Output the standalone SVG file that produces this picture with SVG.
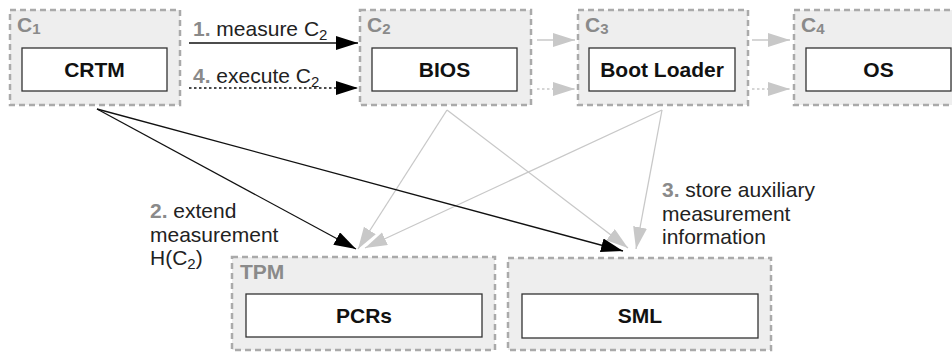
<svg xmlns="http://www.w3.org/2000/svg" width="952" height="353" viewBox="0 0 952 353">
  <style>
    .container { fill: #eeeeee; stroke: #aaaaaa; stroke-width: 2.5; stroke-dasharray: 6 4; }
    .inner { fill: #ffffff; stroke: #333333; stroke-width: 1.3; }
    .cname { font-family: "Liberation Sans", Arial, sans-serif; font-weight: bold; font-size: 21px; fill: #8a8a8a; }
    .nname { font-family: "Liberation Sans", Arial, sans-serif; font-weight: bold; font-size: 21px; fill: #111111; text-anchor: middle; }
    .label { font-family: "Liberation Sans", Arial, sans-serif; font-size: 21px; fill: #222222; }
    .num { fill: #8a8a8a; font-weight: bold; }
    .black { stroke: #111111; stroke-width: 1.3; fill: none; }
    .gray { stroke: #c8c8c8; stroke-width: 1.3; fill: none; }
    .dotted { stroke-dasharray: 2.5 2.5; }
  </style>
  <defs>
    <marker id="headBlack" markerUnits="userSpaceOnUse" markerWidth="24" markerHeight="16" refX="22" refY="7" orient="auto">
      <path d="M0,0 L22,7 L0,14 Z" fill="#000000"/>
    </marker>
    <marker id="headGray" markerUnits="userSpaceOnUse" markerWidth="24" markerHeight="16" refX="22" refY="7" orient="auto">
      <path d="M0,0 L22,7 L0,14 Z" fill="#c8c8c8"/>
    </marker>
  </defs>

  <!-- components -->
  <g id="c1">
    <rect class="container" x="10" y="10" width="170" height="95"/>
    <text class="cname" x="17" y="32">C<tspan font-size="15" dy="2">1</tspan></text>
    <rect class="inner" x="22" y="48" width="145" height="43"/>
    <text class="nname" x="94.5" y="77">CRTM</text>
  </g>
  <g id="c2">
    <rect class="container" x="360" y="10" width="171" height="95"/>
    <text class="cname" x="367" y="32">C<tspan font-size="15" dy="2">2</tspan></text>
    <rect class="inner" x="372" y="48" width="145" height="43"/>
    <text class="nname" x="444.5" y="77">BIOS</text>
  </g>
  <g id="c3">
    <rect class="container" x="578" y="10" width="170" height="95"/>
    <text class="cname" x="585" y="32">C<tspan font-size="15" dy="2">3</tspan></text>
    <rect class="inner" x="589" y="48" width="146" height="43"/>
    <text class="nname" x="662" y="77">Boot Loader</text>
  </g>
  <g id="c4">
    <rect class="container" x="794" y="10" width="170" height="95"/>
    <text class="cname" x="801" y="32">C<tspan font-size="15" dy="2">4</tspan></text>
    <rect class="inner" x="806" y="48" width="145" height="43"/>
    <text class="nname" x="878.5" y="77">OS</text>
  </g>
  <g id="tpm">
    <rect class="container" x="232" y="257" width="263" height="93"/>
    <text class="cname" x="240" y="279">TPM</text>
    <rect class="inner" x="246" y="294" width="236" height="43"/>
    <text class="nname" x="364" y="323">PCRs</text>
  </g>
  <g id="sml">
    <rect class="container" x="508" y="258" width="263" height="92"/>
    <rect class="inner" x="522" y="294" width="236" height="44"/>
    <text class="nname" x="640" y="323">SML</text>
  </g>

  <!-- connectors -->
  <g id="connectors">
    <line class="black" x1="189" y1="43" x2="358" y2="43" marker-end="url(#headBlack)"/>
    <line class="black dotted" x1="189" y1="88" x2="358" y2="88" marker-end="url(#headBlack)"/>
    <line class="gray" x1="537" y1="40" x2="575" y2="40" marker-end="url(#headGray)"/>
    <line class="gray dotted" x1="537" y1="89" x2="575" y2="89" marker-end="url(#headGray)"/>
    <line class="gray" x1="752" y1="40" x2="790" y2="40" marker-end="url(#headGray)"/>
    <line class="gray dotted" x1="752" y1="89" x2="790" y2="89" marker-end="url(#headGray)"/>

    <line class="gray" x1="447" y1="110" x2="358" y2="249" marker-end="url(#headGray)"/>
    <line class="gray" x1="447" y1="110" x2="628" y2="248" marker-end="url(#headGray)"/>
    <line class="gray" x1="662" y1="110" x2="365" y2="248" marker-end="url(#headGray)"/>
    <line class="gray" x1="662" y1="110" x2="636" y2="249" marker-end="url(#headGray)"/>

    <line class="black" x1="97" y1="109" x2="356" y2="249" marker-end="url(#headBlack)"/>
    <line class="black" x1="97" y1="109" x2="623" y2="251" marker-end="url(#headBlack)"/>
  </g>

  <!-- step labels -->
  <g id="labels">
    <text class="label" x="193" y="36"><tspan class="num">1.</tspan> measure C<tspan font-size="15" dy="4">2</tspan></text>
    <text class="label" x="193" y="83"><tspan class="num">4.</tspan> execute C<tspan font-size="15" dy="4">2</tspan></text>
    <text class="label" x="150" y="218"><tspan class="num">2.</tspan> extend</text>
    <text class="label" x="150" y="241.5">measurement</text>
    <text class="label" x="150" y="265">H(C<tspan font-size="15" dy="4">2</tspan><tspan dy="-4">)</tspan></text>
    <text class="label" x="662" y="197"><tspan class="num">3.</tspan> store auxiliary</text>
    <text class="label" x="662" y="220.5">measurement</text>
    <text class="label" x="662" y="244">information</text>
  </g>
</svg>
